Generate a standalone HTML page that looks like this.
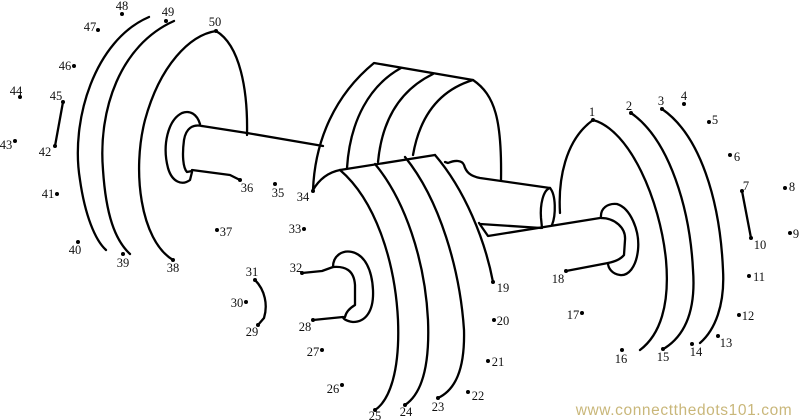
<!DOCTYPE html>
<html><head><meta charset="utf-8"><style>
html,body{margin:0;padding:0;background:#fff;}
svg{display:block}
text{font-family:"Liberation Serif",serif;font-size:12.5px;fill:#111;text-anchor:middle}
</style></head><body>
<svg width="800" height="420" viewBox="0 0 800 420" xmlns="http://www.w3.org/2000/svg">
<g fill="none" stroke="#000" stroke-width="2.3" stroke-linecap="round" stroke-linejoin="round">
<path d="M149,17 C95,40 70,120 80,180 C85,215 95,240 106,250"/>
<path d="M174,21 C120,45 98,110 103,170 C106,215 115,240 130,254"/>
<path d="M173,260 C140,240 132,170 145,120 C160,65 190,35 216,31 C240,45 248,90 247,135"/>
<path d="M55,146 L63,102"/>
<path d="M200,124 C197,114 190,110 182,113 C168,120 162,145 168,168 C172,182 182,186 190,180 L192,172"/>
<path d="M202,126 C193,124 186,128 184,140 C182,155 183,168 187,172 L192,171"/>
<path d="M202,126 L247,133 L323,146"/>
<path d="M192,170 L230,175 L240,180"/>
<path d="M313,190 C315,140 335,95 374,63 L473,80"/>
<path d="M347,168 C350,120 370,85 401,68"/>
<path d="M378,162 C382,120 400,90 433,74"/>
<path d="M413,155 C420,115 440,90 473,80 C495,95 502,120 501,180"/>
<path d="M445,162 L448,163 C455,160 462,160 464,165 C466,172 470,176 480,178 L550,188"/>
<path d="M550,188 C543,190 540,205 541,218 L542,228"/>
<path d="M550,188 C556,195 556,215 552,225"/>
<path d="M479,223 L488,236 L600,218"/>
<path d="M480,224 L541,228"/>
<path d="M560,213 C558,180 565,140 593,120 C630,130 660,200 666,260 C670,305 660,335 640,350"/>
<path d="M631,113 C670,140 690,210 693,270 C696,310 685,335 665,348"/>
<path d="M662,109 C700,135 720,200 723,270 C725,305 715,330 700,343"/>
<path d="M742,191 L751,238"/>
<path d="M601,218 C600,208 608,203 617,204 C630,208 640,230 638,250 C636,268 628,276 620,275 C612,274 608,268 608,263"/>
<path d="M601,218 C615,218 626,228 625,240 L624,255 C620,260 613,262 608,263 L566,271"/>
<path d="M313,190 C320,178 330,172 340,170 L435,155"/>
<path d="M340,170 C375,200 395,260 398,320 C400,370 390,400 375,410"/>
<path d="M375,164 C405,200 425,260 428,320 C430,370 420,395 405,405"/>
<path d="M405,157 C440,200 460,270 464,330 C465,370 455,390 438,398"/>
<path d="M435,155 C465,190 485,240 493,282"/>
<path d="M302,273 L322,271 L333,267"/>
<path d="M333,267 C333,255 343,250 352,252 C365,255 372,270 373,290 C374,312 365,322 353,322 C345,321 343,318 343,317"/>
<path d="M333,267 C345,266 354,270 355,285 L355,305 C350,308 346,312 345,317"/>
<path d="M313,320 L343,317"/>
<path d="M255,280 C265,290 268,305 264,318 L258,325"/>
</g>
<g fill="#000">
<circle cx="593" cy="120" r="2"/><circle cx="631" cy="113" r="2"/><circle cx="662" cy="109" r="2"/><circle cx="684" cy="104" r="2"/><circle cx="709" cy="122" r="2"/><circle cx="730" cy="155" r="2"/><circle cx="742" cy="191" r="2"/><circle cx="785" cy="188" r="2"/><circle cx="790" cy="233" r="2"/><circle cx="751" cy="238" r="2"/><circle cx="749" cy="276" r="2"/><circle cx="739" cy="315" r="2"/><circle cx="718" cy="336" r="2"/><circle cx="692" cy="344" r="2"/><circle cx="663" cy="349" r="2"/><circle cx="622" cy="350" r="2"/><circle cx="582" cy="313" r="2"/><circle cx="566" cy="271" r="2"/><circle cx="493" cy="282" r="2"/><circle cx="494" cy="320" r="2"/><circle cx="488" cy="361" r="2"/><circle cx="468" cy="392" r="2"/><circle cx="438" cy="398" r="2"/><circle cx="405" cy="405" r="2"/><circle cx="375" cy="410" r="2"/><circle cx="342" cy="385" r="2"/><circle cx="322" cy="350" r="2"/><circle cx="313" cy="320" r="2"/><circle cx="258" cy="325" r="2"/><circle cx="246" cy="302" r="2"/><circle cx="255" cy="280" r="2"/><circle cx="302" cy="273" r="2"/><circle cx="304" cy="229" r="2"/><circle cx="313" cy="191" r="2"/><circle cx="275" cy="184" r="2"/><circle cx="240" cy="180" r="2"/><circle cx="217" cy="230" r="2"/><circle cx="173" cy="260" r="2"/><circle cx="123" cy="254" r="2"/><circle cx="78" cy="242" r="2"/><circle cx="57" cy="194" r="2"/><circle cx="55" cy="146" r="2"/><circle cx="15" cy="141" r="2"/><circle cx="20" cy="97" r="2"/><circle cx="63" cy="102" r="2"/><circle cx="74" cy="66" r="2"/><circle cx="98" cy="30" r="2"/><circle cx="122" cy="14" r="2"/><circle cx="166" cy="21" r="2"/><circle cx="216" cy="31" r="2"/>
</g>
<g>
<text x="592" y="116">1</text><text x="629" y="110">2</text><text x="661" y="105">3</text><text x="684" y="100">4</text><text x="715" y="124">5</text><text x="737" y="161">6</text><text x="746" y="190">7</text><text x="792" y="191">8</text><text x="796" y="238">9</text><text x="760" y="249">10</text><text x="759" y="281">11</text><text x="748" y="320">12</text><text x="726" y="347">13</text><text x="696" y="356">14</text><text x="663" y="361">15</text><text x="621" y="363">16</text><text x="573" y="319">17</text><text x="558" y="283">18</text><text x="503" y="292">19</text><text x="503" y="325">20</text><text x="498" y="366">21</text><text x="478" y="400">22</text><text x="438" y="411">23</text><text x="406" y="416">24</text><text x="375" y="420">25</text><text x="333" y="393">26</text><text x="313" y="356">27</text><text x="305" y="331">28</text><text x="252" y="336">29</text><text x="237" y="307">30</text><text x="252" y="276">31</text><text x="296" y="272">32</text><text x="295" y="233">33</text><text x="303" y="201">34</text><text x="278" y="197">35</text><text x="247" y="192">36</text><text x="226" y="236">37</text><text x="173" y="272">38</text><text x="123" y="267">39</text><text x="75" y="254">40</text><text x="48" y="198">41</text><text x="45" y="156">42</text><text x="6" y="149">43</text><text x="16" y="95">44</text><text x="56" y="100">45</text><text x="65" y="70">46</text><text x="90" y="31">47</text><text x="122" y="10">48</text><text x="168" y="16">49</text><text x="215" y="26">50</text>
</g>
<text x="684" y="415" style="font-family:'Liberation Sans',sans-serif;font-size:15.5px;fill:#c9b77a;letter-spacing:0.6px">www.connectthedots101.com</text>
</svg>
</body></html>
